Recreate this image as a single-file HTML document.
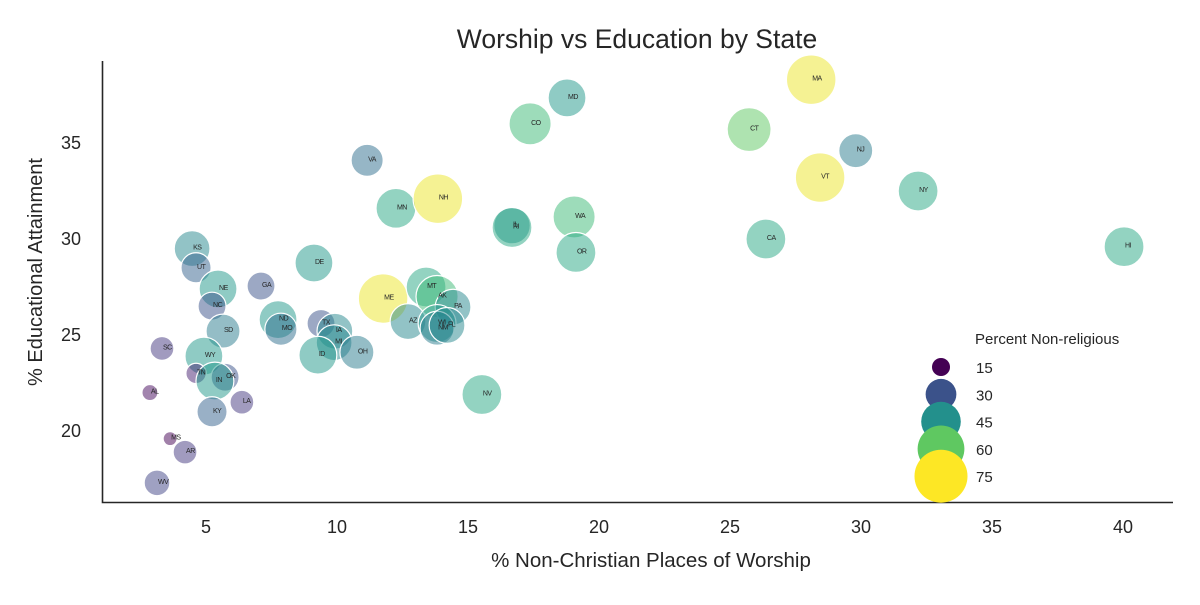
<!DOCTYPE html>
<html><head><meta charset="utf-8"><style>
body{margin:0;background:#fff;}
svg text{font-family:"Liberation Sans",Arial,sans-serif;fill:#262626;}
</style></head><body>
<svg id="chart" width="1200" height="600"></svg>
<script>
const states=["KS","UT","NE","NC","SD","SC","WY","TN","OK","IN","AL","LA","KY","MS","AR","WV","GA","DE","ND","MO","TX","IA","MI","ID","OH","ME","MT","AK","PA","AZ","WI","NM","FL","NV","VA","MN","NH","CO","MD","IL","RI","WA","OR","CT","MA","VT","NJ","CA","NY","HI"];
const worship=[4.47,4.62,5.46,5.23,5.65,3.32,4.92,4.62,5.73,5.34,2.86,6.37,5.23,3.63,4.2,3.13,7.1,9.12,7.75,7.86,9.39,9.92,9.89,9.27,10.76,11.76,13.4,13.82,14.43,12.71,13.82,13.82,14.2,15.53,11.15,12.25,13.85,17.37,18.78,16.68,16.68,19.05,19.12,25.73,28.1,28.44,29.8,26.37,32.18,40.04];
const education=[29.5,28.5,27.4,26.5,25.2,24.3,23.9,23.0,22.8,22.6,22.0,21.5,21.0,19.6,18.9,17.3,27.55,28.75,25.8,25.3,25.6,25.2,24.6,23.95,24.1,26.9,27.5,27.0,26.45,25.7,25.6,25.35,25.5,21.9,34.1,31.6,32.1,36.0,37.35,30.7,30.6,31.15,29.3,35.7,38.3,33.2,34.6,30.0,32.5,29.6];
const nonReligious=[48,36,53,32,44,25,53,20,32,53,15,25,36,13,25,28,32,53,53,40,32,48,48,53,44,86,58,64,48,48,53,44,48,58,40,58,86,64,53,50,58,64,58,69,86,86,44,58,58,58];
const xTicks=[5,10,15,20,25,30,35,40];
const yTicks=[20,25,30,35];
const legendValues=[15,30,45,60,75];

const NS="http://www.w3.org/2000/svg";
const svg=document.getElementById('chart');
function X(v){return 75+v*26.2;}
function Y(v){return 815-v*19.2;}
function R(v){return Math.sqrt(Math.max(30,7.75*v-52));}
function RL(v){return Math.sqrt(Math.max(30,10.35*v-74));}
const vir=[[68,1,84],[72,40,120],[62,74,137],[49,104,142],[38,130,142],[31,158,137],[53,183,121],[109,205,89],[180,222,44],[253,231,37]];
function ramp(t){t=Math.min(1,Math.max(0,t))*(vir.length-1);let i=Math.min(vir.length-2,Math.floor(t)),f=t-i;
 const c=vir[i].map((a,k)=>Math.round(a+(vir[i+1][k]-a)*f));return `rgb(${c[0]},${c[1]},${c[2]})`;}
function color(v){return ramp((v-13)/75);}
function legendColor(v){return ramp((v-15)/60);}
function el(tag,attrs,parent){const e=document.createElementNS(NS,tag);for(const k in attrs)e.setAttribute(k,attrs[k]);(parent||svg).appendChild(e);return e;}

let t=el('text',{x:637,y:48,'text-anchor':'middle','font-size':26.5});t.textContent='Worship vs Education by State';



xTicks.forEach(v=>{const e=el('text',{x:X(v),y:533,'text-anchor':'middle','font-size':18});e.textContent=v;
 
 });
yTicks.forEach(v=>{const e=el('text',{x:81,y:Y(v)+6,'text-anchor':'end','font-size':18});e.textContent=v;
 
 });
let xl=el('text',{x:651,y:567,'text-anchor':'middle','font-size':20.5});xl.textContent='% Non-Christian Places of Worship';


let yl=el('text',{x:42,y:272,'text-anchor':'middle','font-size':20,transform:'rotate(-90 42 272)'});yl.textContent='% Educational Attainment';



const g=el('g',{});


states.forEach((s,i)=>{const c=el('circle',{cx:X(worship[i]),cy:Y(education[i]),r:R(nonReligious[i]),fill:color(nonReligious[i]),'fill-opacity':0.5,stroke:'#fff','stroke-width':1.2},g);
 
 });
states.forEach((s,i)=>{const e=el('text',{x:X(worship[i])+1,y:Y(education[i])+1,'font-size':7,'letter-spacing':'-0.5'},g);e.textContent=s;
 
 });

let sp=el('path',{d:'M102.5 61 V502.5 H1173',fill:'none',stroke:'#262626','stroke-width':1.6});



const lg=el('g',{});


let lt=el('text',{x:975,y:344,'font-size':15},lg);lt.textContent='Percent Non-religious';


legendValues.forEach((v,i)=>{const cy=367+i*27.3;
 const c=el('circle',{cx:941,cy:cy,r:RL(v),fill:legendColor(v)},lg);
 
 
 const e=el('text',{x:976,y:cy+6,'font-size':15},lg);e.textContent=v;
 
 });
</script>
</body></html>
